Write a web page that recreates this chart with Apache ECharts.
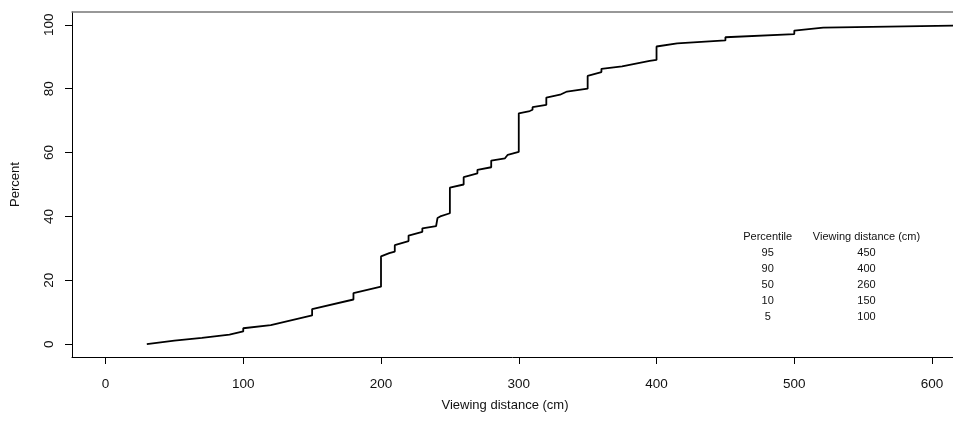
<!DOCTYPE html>
<html>
<head>
<meta charset="utf-8">
<script src="https://cdn.jsdelivr.net/npm/echarts@6/dist/echarts.min.js"></script>
<style>
html,body{margin:0;padding:0;background:#fff;}
#chart{width:953px;height:425px;}
</style>
</head>
<body>
<div id="chart"></div>
<script>
// Cumulative curve: viewing distance (cm) and cumulative percent
var distance = [30,50,70,90,100,100,120,150,150,180,180,200,200,206,210,210,220,220,230,230,240,241,243,250,250,260,260,270,270,280,280,290,292,300,300,308,310,310,320,320,330,335,350,350,360,360,375,395,400,400,415,450,450,500,500,521,615.2];
var percent  = [0,1.1,2,3,4,5,6,9,11,14,16,18,27.5,28.5,29,31,32.3,34,35.2,36.3,37,39.5,40,41,49,50,52.3,53.5,54.6,55.4,57.5,58.2,59.3,60.2,72.3,73,73.4,74.2,74.9,77.2,78.1,79.1,80,84,85.2,86.2,87,88.7,89,93.2,94.2,95.1,96.1,97.1,98.2,99.1,99.75];
var xTicks = [0,100,200,300,400,500,600];
var yTicks = [0,20,40,60,80,100];
var tableHeader = ["Percentile", "Viewing distance (cm)"];
var tablePercentile = [95,90,50,10,5];
var tableDistance = [450,400,260,150,100];

var chart = echarts.init(document.getElementById('chart'), null, {renderer:'canvas'});
var FONT = '"Liberation Sans", Arial, Helvetica, sans-serif';
var data = distance.map(function(d,i){return [d, percent[i]];});

var graphics = [];
var colX = [767.7, 866.5];
var rowY0 = 237, rowStep = 15.9;
graphics.push({type:'text', x:colX[0], y:rowY0, style:{text:tableHeader[0], font:'11px '+FONT, fill:'#111', align:'center', verticalAlign:'middle'}});
graphics.push({type:'text', x:colX[1], y:rowY0, style:{text:tableHeader[1], font:'11px '+FONT, fill:'#111', align:'center', verticalAlign:'middle'}});
for (var i=0;i<tablePercentile.length;i++){
  graphics.push({type:'text', x:colX[0], y:rowY0+(i+1)*rowStep, style:{text:String(tablePercentile[i]), font:'11px '+FONT, fill:'#111', align:'center', verticalAlign:'middle'}});
  graphics.push({type:'text', x:colX[1], y:rowY0+(i+1)*rowStep, style:{text:String(tableDistance[i]), font:'11px '+FONT, fill:'#111', align:'center', verticalAlign:'middle'}});
}
graphics.push({type:'text', x:505, y:405, style:{text:'Viewing distance (cm)', font:'13px '+FONT, fill:'#111', align:'center', verticalAlign:'middle'}});

var option = {
  animation:false,
  backgroundColor:'#fff',
  grid:{left:72, top:12, right:0, bottom:68, containLabel:false},
  xAxis:[{
    type:'value', min:-24.3, max:615.2, position:'bottom',
    axisLine:{show:true, onZero:false, lineStyle:{color:'#000', width:1}},
    axisTick:{show:true, customValues:xTicks, length:7, inside:false, lineStyle:{color:'#000'}},
    axisLabel:{show:true, customValues:xTicks, margin:20.5, fontSize:13.5, fontFamily:FONT, color:'#111'},
    splitLine:{show:false}
  },{
    type:'value', min:-24.3, max:615.2, position:'top',
    axisLine:{show:true, onZero:false, lineStyle:{color:'#777', width:1.5}},
    axisTick:{show:false}, axisLabel:{show:false}, splitLine:{show:false}
  }],
  yAxis:{
    type:'value', min:-4, max:104,
    name:'Percent', nameLocation:'middle', nameGap:50, nameRotate:90,
    nameTextStyle:{fontSize:13, fontFamily:FONT, color:'#111'},
    axisLine:{show:true, onZero:false, lineStyle:{color:'#000', width:1}},
    axisTick:{show:true, customValues:yTicks, length:7, lineStyle:{color:'#000'}},
    axisLabel:{show:true, customValues:yTicks, rotate:90, margin:16, fontSize:13.5, fontFamily:FONT, color:'#111'},
    splitLine:{show:false}
  },
  series:[{
    type:'line', data:data, xAxisIndex:0, symbol:'none', clip:true,
    lineStyle:{color:'#000', width:1.8}
  }],
  graphic:graphics
};
chart.setOption(option);
</script>
</body>
</html>
